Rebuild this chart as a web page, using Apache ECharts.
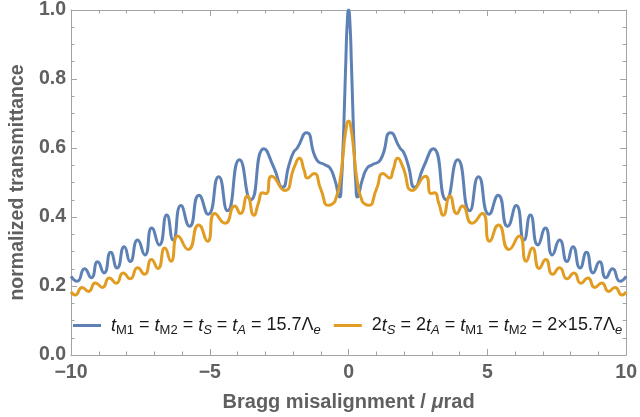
<!DOCTYPE html>
<html>
<head>
<meta charset="utf-8">
<script src="https://cdn.jsdelivr.net/npm/echarts@6/dist/echarts.min.js"></script>
<style>
html,body{margin:0;padding:0;background:#fff;}
#chart{width:640px;height:417px;}
</style>
</head>
<body>
<div id="chart"></div>
<script>
// Bragg misalignment (µrad) and normalized transmittance
const blueX = [-10, -9.78, -9.51, -9.27, -9.04, -8.81, -8.57, -8.34, -8.08, -7.87, -7.60, -7.34, -7.09, -6.82, -6.55, -6.32, -6.04, -5.73, -5.39, -5.06, -4.68, -4.36, -3.93, -3.52, -3.05, -2.70, -2.38, -2.15, -1.98, -1.85, -1.52, -1.15, -0.84, -0.67, -0.50, -0.32, -0.26, -0.20, -0.15, -0.10, -0.05, 0,
  0.05, 0.10, 0.15, 0.20, 0.26, 0.32, 0.50, 0.67, 0.84, 1.15, 1.52, 1.85, 1.98, 2.15, 2.38, 2.70, 3.05, 3.52, 3.93, 4.36, 4.68, 5.06, 5.39, 5.73, 6.04, 6.32, 6.55, 6.82, 7.09, 7.34, 7.60, 7.87, 8.08, 8.34, 8.57, 8.81, 9.04, 9.27, 9.51, 9.78, 10];
const blueY = [0.228, 0.214, 0.250, 0.224, 0.270, 0.238, 0.298, 0.252, 0.314, 0.271, 0.333, 0.290, 0.368, 0.319, 0.406, 0.333, 0.433, 0.373, 0.463, 0.408, 0.517, 0.418, 0.566, 0.450, 0.598, 0.545, 0.486, 0.550, 0.588, 0.600, 0.644, 0.566, 0.551, 0.542, 0.509, 0.458, 0.500, 0.600, 0.720, 0.850, 0.960, 1.000,
  0.960, 0.850, 0.720, 0.600, 0.500, 0.458, 0.509, 0.542, 0.551, 0.566, 0.644, 0.600, 0.588, 0.550, 0.486, 0.545, 0.598, 0.450, 0.566, 0.418, 0.517, 0.408, 0.463, 0.373, 0.433, 0.333, 0.406, 0.319, 0.368, 0.290, 0.333, 0.271, 0.314, 0.252, 0.298, 0.238, 0.270, 0.224, 0.250, 0.214, 0.228];

const orangeX = [-10, -9.85, -9.60, -9.37, -9.12, -8.87, -8.62, -8.37, -8.12, -7.87, -7.60, -7.35, -7.10, -6.87, -6.62, -6.40, -6.15, -5.78, -5.40, -5.08, -4.82, -4.45, -4.10, -3.90, -3.65, -3.41, -3.25, -3.10, -2.97, -2.77, -2.30, -1.95, -1.77, -1.60, -1.48, -1.25, -1.00, -0.73, -0.60, -0.45, -0.30, -0.20, -0.10, 0,
  0.10, 0.20, 0.30, 0.45, 0.60, 0.73, 1.00, 1.25, 1.48, 1.60, 1.77, 1.95, 2.30, 2.77, 2.97, 3.10, 3.25, 3.41, 3.65, 3.90, 4.10, 4.45, 4.82, 5.08, 5.40, 5.78, 6.15, 6.40, 6.62, 6.87, 7.10, 7.35, 7.60, 7.87, 8.12, 8.37, 8.62, 8.87, 9.12, 9.37, 9.60, 9.85, 10];
const orangeY = [0.183, 0.174, 0.196, 0.184, 0.209, 0.196, 0.223, 0.208, 0.238, 0.221, 0.253, 0.234, 0.277, 0.251, 0.310, 0.272, 0.345, 0.306, 0.377, 0.330, 0.410, 0.382, 0.432, 0.410, 0.461, 0.405, 0.440, 0.470, 0.468, 0.518, 0.477, 0.546, 0.570, 0.535, 0.513, 0.526, 0.480, 0.434, 0.437, 0.455, 0.510, 0.580, 0.650, 0.678,
  0.650, 0.580, 0.510, 0.455, 0.437, 0.434, 0.480, 0.526, 0.513, 0.535, 0.570, 0.546, 0.477, 0.518, 0.468, 0.470, 0.440, 0.405, 0.461, 0.410, 0.432, 0.382, 0.410, 0.330, 0.377, 0.306, 0.345, 0.272, 0.310, 0.251, 0.277, 0.234, 0.253, 0.221, 0.238, 0.208, 0.223, 0.196, 0.209, 0.184, 0.196, 0.174, 0.183];

const seriesNames = ['blue', 'orange'];
const legendLabels = [
  '{i|t}{s|M1} = {i|t}{s|M2} = {i|t}{si|S} = {i|t}{si|A} = 15.7Λ{si|e}',
  '2{i|t}{si|S} = 2{i|t}{si|A} = {i|t}{s|M1} = {i|t}{s|M2} = 2×15.7Λ{si|e}'
];
const xTickValues = [-10, -5, 0, 5, 10];
const yTickValues = [0, 0.2, 0.4, 0.6, 0.8, 1.0];

const zip = (xs, ys) => xs.map((x, i) => [x, ys[i]]);

const FONT = '"Liberation Sans", Arial, sans-serif';
const FRAME = '#a3a3a3';
const LABEL = '#606060';
const TEXT = '#1a1a1a';

const frameLine = { show: true, onZero: false, lineStyle: { color: FRAME, width: 1 } };
const frameTick = { show: true, inside: true, length: 6, lineStyle: { color: FRAME } };
const minorX = { show: true, splitNumber: 5, length: 3.5, lineStyle: { color: FRAME } };
const minorY = { show: true, splitNumber: 4, length: 3.5, lineStyle: { color: FRAME } };
const labelFont = { fontFamily: FONT, fontSize: 19.5, fontWeight: 'bold', color: LABEL };

const chart = echarts.init(document.getElementById('chart'), null, { renderer: 'canvas' });
chart.setOption({
  animation: false,
  backgroundColor: '#ffffff',
  grid: { left: 59, right: 11, top: 7.5, bottom: 58.5, containLabel: false },
  legend: {
    data: seriesNames,
    left: 73,
    top: 314.5,
    padding: 0,
    itemGap: 13,
    itemWidth: 28,
    itemHeight: 3,
    icon: 'rect',
    formatter: name => legendLabels[seriesNames.indexOf(name)],
    textStyle: {
      fontFamily: FONT, fontSize: 18, color: TEXT, lineHeight: 22, padding: [0, 0, 0, 5],
      rich: {
        i: { fontFamily: FONT, fontSize: 18, fontStyle: 'italic', color: TEXT, lineHeight: 22 },
        s: { fontFamily: FONT, fontSize: 13, color: TEXT, lineHeight: 12, verticalAlign: 'bottom' },
        si: { fontFamily: FONT, fontSize: 13, fontStyle: 'italic', color: TEXT, lineHeight: 12, verticalAlign: 'bottom' }
      }
    }
  },
  xAxis: [
    {
      type: 'value', min: -10, max: 10, interval: 5, position: 'bottom',
      name: 'Bragg misalignment / {m|μ}rad',
      nameLocation: 'middle', nameGap: 37,
      nameTextStyle: {
        fontFamily: FONT, fontSize: 20, fontWeight: 'bold', color: LABEL,
        rich: { m: { fontFamily: FONT, fontSize: 20, fontWeight: 'bold', fontStyle: 'italic', color: LABEL } }
      },
      axisLine: frameLine, axisTick: frameTick, minorTick: minorX,
      splitLine: { show: false },
      axisLabel: Object.assign({ show: true, margin: 8,
        formatter: v => (xTickValues.includes(v) ? String(v).replace('-', '\u2212') : '') }, labelFont)
    },
    {
      type: 'value', min: -10, max: 10, interval: 5, position: 'top',
      axisLine: frameLine, axisTick: frameTick, minorTick: minorX,
      splitLine: { show: false }, axisLabel: { show: false }
    }
  ],
  yAxis: [
    {
      type: 'value', min: 0, max: 1, interval: 0.2, position: 'left',
      name: 'normalized transmittance',
      nameLocation: 'middle', nameGap: 34,
      nameTextStyle: { fontFamily: FONT, fontSize: 19.5, fontWeight: 'bold', color: LABEL },
      axisLine: frameLine, axisTick: frameTick, minorTick: minorY,
      splitLine: { show: false },
      axisLabel: Object.assign({ show: true, margin: 5,
        formatter: v => (yTickValues.some(t => Math.abs(t - v) < 1e-9) ? v.toFixed(1) : '') }, labelFont)
    },
    {
      type: 'value', min: 0, max: 1, interval: 0.2, position: 'right',
      axisLine: frameLine, axisTick: frameTick, minorTick: minorY,
      splitLine: { show: false }, axisLabel: { show: false }
    }
  ],
  series: [
    {
      name: 'blue', type: 'line', xAxisIndex: 0, yAxisIndex: 0,
      data: zip(blueX, blueY), symbol: 'none', smooth: 0.6,
      lineStyle: { color: '#5e81b5', width: 3 }, itemStyle: { color: '#5e81b5' }, z: 3
    },
    {
      name: 'orange', type: 'line', xAxisIndex: 0, yAxisIndex: 0,
      data: zip(orangeX, orangeY), symbol: 'none', smooth: 0.6,
      lineStyle: { color: '#e19c24', width: 3 }, itemStyle: { color: '#e19c24' }, z: 4
    }
  ]
});
</script>
</body>
</html>
